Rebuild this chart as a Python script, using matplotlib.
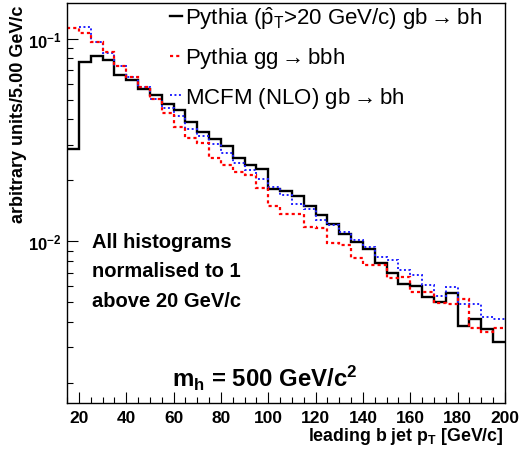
import numpy as np
import matplotlib
matplotlib.use("Agg")
import matplotlib.pyplot as plt

plt.rcParams['font.family'] = ['Liberation Sans', 'DejaVu Sans']
plt.rcParams['mathtext.fontset'] = 'custom'
plt.rcParams['mathtext.rm'] = 'Liberation Sans'
plt.rcParams['mathtext.it'] = 'Liberation Sans'
plt.rcParams['mathtext.bf'] = 'Liberation Sans:bold'

# bin edges in leading b jet pT (5 GeV/c bins)
edges = np.arange(15, 205, 5)

# Pythia (pT-hat > 20) gb -> bh, bins 15..200
pythia_gb = [0.0284, 0.0770, 0.0818, 0.0787, 0.0663, 0.0622, 0.0566, 0.0525,
             0.0475, 0.0444, 0.0390, 0.0345, 0.0319, 0.0296, 0.0257, 0.0237,
             0.0227, 0.0181, 0.0177, 0.0168, 0.0150, 0.0135, 0.0122, 0.0108,
             0.00989, 0.00920, 0.00780, 0.00695, 0.00615, 0.00600, 0.00531,
             0.00499, 0.00556, 0.00383, 0.00411, 0.00370, 0.00318]

# Pythia gg -> bbh, bins 15..200
pythia_gg = [0.1123, 0.1067, 0.0963, 0.0855, 0.0735, 0.0646, 0.0575, 0.0503,
             0.0429, 0.0368, 0.0322, 0.0305, 0.0257, 0.0238, 0.0219, 0.0213,
             0.0183, 0.0149, 0.0137, 0.0136, 0.0118, 0.0116, 0.00985, 0.00955,
             0.00831, 0.00767, 0.00767, 0.00661, 0.00665, 0.00564, 0.00560,
             0.00497, 0.00490, 0.00520, 0.00373, 0.00357, 0.00373]

# MCFM (NLO) gb -> bh, bins 20..200
mcfm_gb = [0.1136, 0.0963, 0.0850, 0.0735, 0.0648, 0.0575, 0.0503, 0.0454,
           0.0413, 0.0358, 0.0329, 0.0301, 0.0274, 0.0242, 0.0225, 0.0204,
           0.0186, 0.0169, 0.0152, 0.0144, 0.0128, 0.0120, 0.0111, 0.0101,
           0.00938, 0.00837, 0.00805, 0.00718, 0.00684, 0.00605, 0.00537,
           0.00594, 0.00492, 0.00492, 0.00425, 0.00414]

labels = [r'Pythia ($\hat{\mathrm{p}}_{\mathrm{T}}$>20 GeV/c) gb$\rightarrow$bh',
          r'Pythia gg$\rightarrow$bbh',
          r'MCFM (NLO) gb$\rightarrow$bh']

fig = plt.figure(figsize=(5.24, 4.52), dpi=100)
ax = fig.add_axes([67 / 524, 1 - 404 / 452, 438 / 524, 400 / 452])

h1 = ax.stairs(pythia_gb, edges, color='black', lw=1.7, baseline=None)
h3 = ax.stairs(mcfm_gb, edges[1:], color='#2020ff', lw=1.4,
               linestyle=(0, (1, 1.3)), baseline=None)
h2 = ax.stairs(pythia_gg, edges, color='#ff0000', lw=1.6,
               linestyle=(0, (1.4, 1.4)), baseline=None)

ax.set_yscale('log')
ax.set_xlim(15, 200)
ax.set_ylim(0.00159, 0.15)

ax.set_xticks(np.arange(20, 201, 20))
ax.set_xticks(np.arange(15, 201, 5), minor=True)
ax.set_xticklabels([str(v) for v in range(20, 201, 20)], fontweight='bold', fontsize=12.5)
ax.set_yticks([0.01, 0.1])
ax.set_yticklabels([r'$\mathbf{10^{-2}}$', r'$\mathbf{10^{-1}}$'], fontsize=12)
ax.yaxis.set_minor_formatter(matplotlib.ticker.NullFormatter())
ax.tick_params(which='both', direction='in', top=False, right=False, width=0.8)
ax.tick_params(which='major', length=8)
ax.tick_params(which='minor', length=4)
ax.tick_params(axis='x', pad=5)
ax.tick_params(axis='y', pad=4)
for s in ax.spines.values():
    s.set_linewidth(1.0)

ax.set_xlabel(r'leading b jet $\mathbf{p_{T}}$ [GeV/c]', fontweight='bold',
              fontsize=12.8, ha='right', va='center')
ax.xaxis.set_label_coords(0.997, -0.0825)
ax.set_ylabel('arbitrary units/5.00 GeV/c', fontweight='bold', fontsize=13,
              ha='right', va='center')
ax.yaxis.set_label_coords(-0.11, 0.995)

leg = ax.legend([h1, h2, h3], labels, loc='upper left', bbox_to_anchor=(0.215, 1.02),
                frameon=False, fontsize=16, handlelength=0.55, handletextpad=0.1,
                labelspacing=0.66, borderaxespad=0)

ax.text(0.058, 0.33, 'All histograms\nnormalised to 1\nabove 20 GeV/c',
        transform=ax.transAxes, fontsize=14.5, fontweight='bold',
        va='center', ha='left', linespacing=1.67)
ax.text(0.24, 0.065, r'$\mathbf{m_{h}}$ = 500 GeV/c$\mathbf{^{2}}$',
        transform=ax.transAxes, fontsize=17.3, fontweight='bold',
        va='center', ha='left')

fig.savefig('out.png', dpi=100)
